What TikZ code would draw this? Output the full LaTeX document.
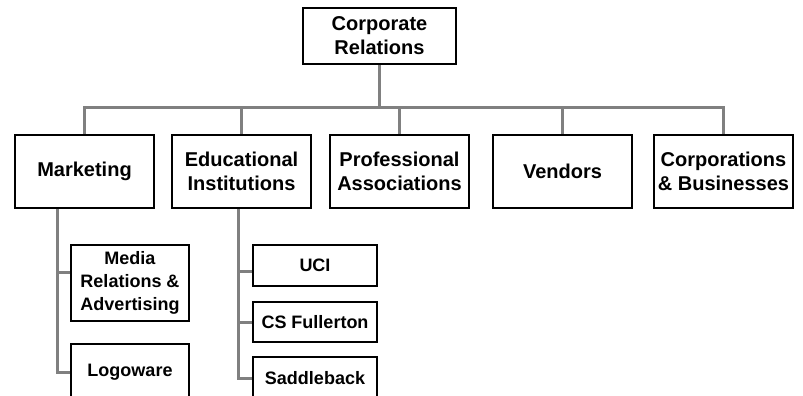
\documentclass[tikz,border=0pt]{standalone}
\usepackage{fontspec}
\setmainfont{Liberation Sans}
\usepackage{xcolor}
\usetikzlibrary{positioning,calc}
\definecolor{linkgray}{RGB}{128,128,128}

\begin{document}
\begin{tikzpicture}[
  x=1pt, y=-1pt,
  node distance=16pt,
  head/.style={draw, line width=2pt, align=center, minimum width=153pt, minimum height=56pt, inner sep=2pt, font=\bfseries\fontsize{20}{24}\selectfont},
  unit/.style={draw, line width=2pt, align=center, minimum width=139pt, minimum height=73pt, inner sep=2pt, font=\bfseries\fontsize{20}{24}\selectfont},
  sub/.style={draw, line width=2pt, align=center, inner sep=2pt, font=\bfseries\fontsize{18}{23}\selectfont},
  link/.style={draw=linkgray, line width=3pt}
]
\useasboundingbox (0,0) rectangle (803,396);

\node[head] (top) at (379.5,36) {Corporate\\Relations};

\node[unit] (mkt) at (84.5,171.5) {Marketing};
\node[unit, right=16pt of mkt] (edu) {Educational\\Institutions};
\node[unit, right=17pt of edu] (prof) {Professional\\Associations};
\node[unit, right=22pt of prof] (vend) {Vendors};
\node[unit, right=20pt of vend] (corp) {Corporations\\\& Businesses};

\node[sub, minimum width=118pt, minimum height=76pt, below right=35pt and -85pt of mkt] (media) {Media\\Relations \&\\Advertising};
\node[sub, minimum width=118pt, minimum height=56pt, below=21pt of media] (logo) {Logoware};

\node[sub, minimum width=124pt, minimum height=41pt, below right=35pt and -60pt of edu] (uci) {UCI};
\node[sub, minimum width=124pt, minimum height=40pt, below=14pt of uci] (csf) {CS Fullerton};
\node[sub, minimum width=124pt, minimum height=42pt, below=13pt of csf] (sad) {Saddleback};

% top level bus
\coordinate (bus) at ($(top.south)+(0,42)$);
\draw[link] (top.south) -- (bus);
\foreach \n in {mkt,edu,prof,vend,corp}
  \draw[link] (bus) -| (\n.north);

% marketing branch
\draw[link] ($(mkt.south west)+(43,0)$) |- ([yshift=11pt]media.west);
\draw[link] ($(mkt.south west)+(43,0)$) |- (logo.west);

% education branch
\draw[link] ($(edu.south west)+(67,0)$) |- ([yshift=-6pt]uci.west);
\foreach \n in {csf,sad}
  \draw[link] ($(edu.south west)+(67,0)$) |- (\n.west);
\end{tikzpicture}
\end{document}
